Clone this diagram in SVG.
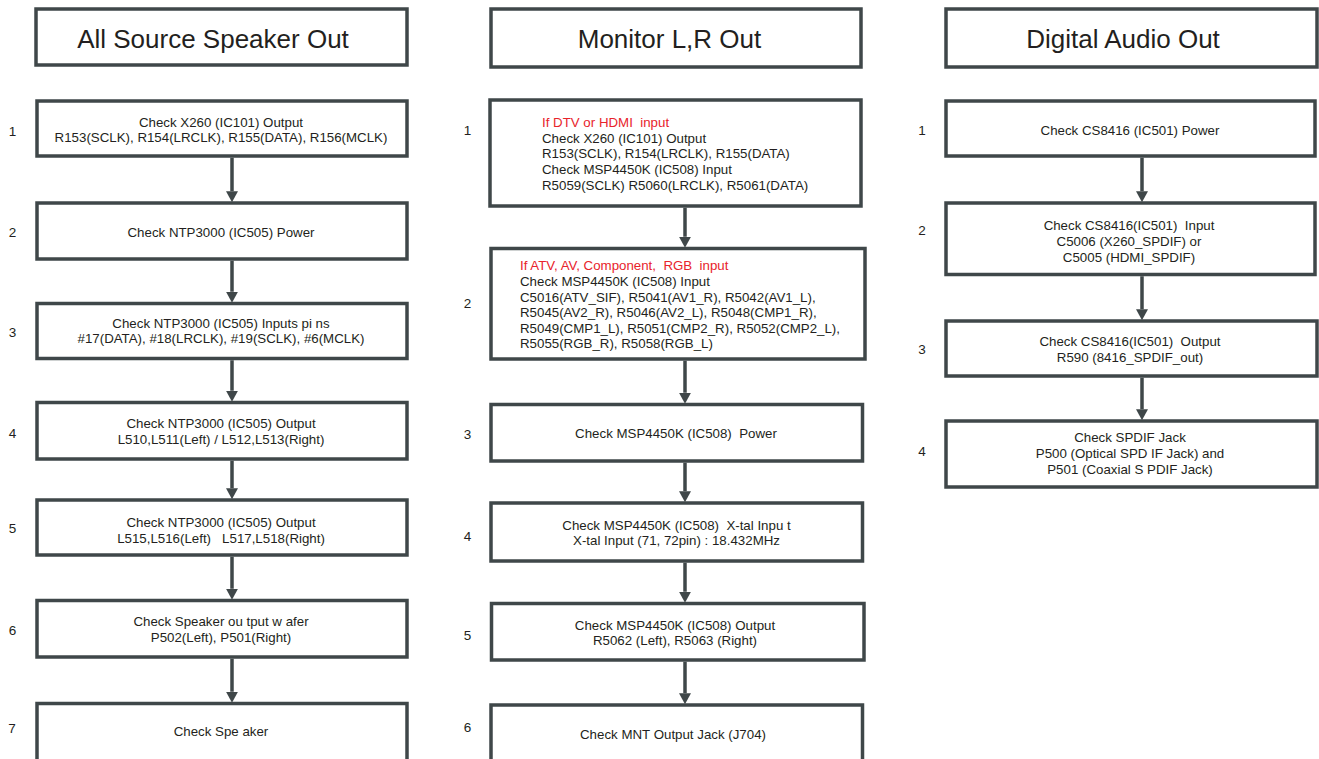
<svg xmlns="http://www.w3.org/2000/svg" width="1319" height="759" viewBox="0 0 1319 759">
<defs>
<style>
.box{fill:#fff;stroke:#3f4749;stroke-width:3.5}
.ttl{font-family:"Liberation Sans",Arial,sans-serif;font-size:26px;fill:#231f20;text-anchor:middle}
.t{font-family:"Liberation Sans",Arial,sans-serif;font-size:13.3px;fill:#231f20}
.c{text-anchor:middle}
.red{fill:#e8232b}
.num{font-family:"Liberation Sans",Arial,sans-serif;font-size:13.5px;fill:#231f20;text-anchor:middle}
.ln{stroke:#3f4749;stroke-width:3.5;fill:none}
</style>
<marker id="ah" markerUnits="userSpaceOnUse" markerWidth="11" markerHeight="12" viewBox="0 0 11 12" refX="0" refY="6" orient="auto">
<path d="M0,0 L11,6 L0,12 z" fill="#3f4749"/>
</marker>
</defs>
<rect width="1319" height="759" fill="#fff"/>

<!-- Column 1 -->
<g id="h1"><rect class="box" x="36" y="9" width="371" height="56"/><text class="ttl" x="213" y="48">All Source Speaker Out</text></g>
<g id="a1"><text class="num" x="12.5" y="135.5">1</text><rect class="box" x="37" y="101" width="370" height="55"/>
<text class="t c" x="221" y="126.7">Check X260 (IC101) Output</text><text class="t c" x="221" y="142">R153(SCLK), R154(LRCLK), R155(DATA), R156(MCLK)</text></g>
<g id="a2"><text class="num" x="12.5" y="236.7">2</text><rect class="box" x="37" y="203" width="370" height="56"/>
<text class="t c" x="221" y="237">Check NTP3000 (IC505) Power</text></g>
<g id="a3"><text class="num" x="12.5" y="336.7">3</text><rect class="box" x="37" y="303.5" width="370" height="55"/>
<text class="t c" x="221" y="327.7">Check NTP3000 (IC505) Inputs pi ns</text><text class="t c" x="221" y="343.3">#17(DATA), #18(LRCLK), #19(SCLK), #6(MCLK)</text></g>
<g id="a4"><text class="num" x="12.5" y="438.3">4</text><rect class="box" x="37" y="402.5" width="370" height="56.5"/>
<text class="t c" x="221" y="428.3">Check NTP3000 (IC505) Output</text><text class="t c" x="221" y="444">L510,L511(Left) / L512,L513(Right)</text></g>
<g id="a5"><text class="num" x="12.5" y="533.3">5</text><rect class="box" x="37" y="500" width="370" height="55"/>
<text class="t c" x="221" y="527.3">Check NTP3000 (IC505) Output</text><text class="t c" x="221" y="543.3" xml:space="preserve">L515,L516(Left)   L517,L518(Right)</text></g>
<g id="a6"><text class="num" x="12.5" y="635">6</text><rect class="box" x="37" y="600.5" width="370" height="56.5"/>
<text class="t c" x="221" y="626">Check Speaker ou tput w afer</text><text class="t c" x="221" y="641.7">P502(Left), P501(Right)</text></g>
<g id="a7"><text class="num" x="12" y="733.3">7</text><rect class="box" x="37" y="703.5" width="370" height="70"/>
<text class="t c" x="221" y="736">Check Spe aker</text></g>

<!-- Column 2 -->
<g id="h2"><rect class="box" x="491" y="9" width="370" height="58"/><text class="ttl" x="669.5" y="48">Monitor L,R Out</text></g>
<g id="b1"><text class="num" x="467.5" y="135">1</text><rect class="box" x="490" y="100" width="371" height="106"/>
<text class="t red" x="542" y="127.3" xml:space="preserve">If DTV or HDMI  input</text>
<text class="t" x="542" y="142.7">Check X260 (IC101) Output</text>
<text class="t" x="542" y="158.3">R153(SCLK), R154(LRCLK), R155(DATA)</text>
<text class="t" x="542" y="174">Check MSP4450K (IC508) Input</text>
<text class="t" x="542" y="190">R5059(SCLK) R5060(LRCLK), R5061(DATA)</text></g>
<g id="b2"><text class="num" x="467.5" y="308">2</text><rect class="box" x="491" y="248.5" width="374" height="110.5"/>
<text class="t red" x="520" y="270" xml:space="preserve">If ATV, AV, Component,  RGB  input</text>
<text class="t" x="520" y="286">Check MSP4450K (IC508) Input</text>
<text class="t" x="520" y="301.7">C5016(ATV_SIF), R5041(AV1_R), R5042(AV1_L),</text>
<text class="t" x="520" y="317.3">R5045(AV2_R), R5046(AV2_L), R5048(CMP1_R),</text>
<text class="t" x="520" y="332.7">R5049(CMP1_L), R5051(CMP2_R), R5052(CMP2_L),</text>
<text class="t" x="520" y="348.3">R5055(RGB_R), R5058(RGB_L)</text></g>
<g id="b3"><text class="num" x="467.5" y="439.3">3</text><rect class="box" x="491" y="404.5" width="371.5" height="56.5"/>
<text class="t c" x="676" y="438" xml:space="preserve">Check MSP4450K (IC508)  Power</text></g>
<g id="b4"><text class="num" x="467.5" y="540.7">4</text><rect class="box" x="491" y="503" width="371.5" height="58"/>
<text class="t c" x="676.5" y="530" xml:space="preserve">Check MSP4450K (IC508)  X-tal Inpu t</text><text class="t c" x="676.5" y="545.3">X-tal Input (71, 72pin) : 18.432MHz</text></g>
<g id="b5"><text class="num" x="467.5" y="640">5</text><rect class="box" x="491.5" y="603.5" width="372.5" height="56.5"/>
<text class="t c" x="675" y="630.3">Check MSP4450K (IC508) Output</text><text class="t c" x="675" y="645.3">R5062 (Left), R5063 (Right)</text></g>
<g id="b6"><text class="num" x="467.5" y="731.7">6</text><rect class="box" x="491" y="705" width="371.5" height="70"/>
<text class="t c" x="673" y="739">Check MNT Output Jack (J704)</text></g>

<!-- Column 3 -->
<g id="h3"><rect class="box" x="946" y="9" width="371" height="58"/><text class="ttl" x="1123" y="48">Digital Audio Out</text></g>
<g id="c1"><text class="num" x="922" y="135">1</text><rect class="box" x="946" y="101" width="369" height="55"/>
<text class="t c" x="1130" y="134.7">Check CS8416 (IC501) Power</text></g>
<g id="c2"><text class="num" x="922" y="235">2</text><rect class="box" x="946" y="203" width="369" height="71.5"/>
<text class="t c" x="1129" y="230" xml:space="preserve">Check CS8416(IC501)  Input</text><text class="t c" x="1129" y="246">C5006 (X260_SPDIF) or</text><text class="t c" x="1129" y="262">C5005 (HDMI_SPDIF)</text></g>
<g id="c3"><text class="num" x="922" y="354">3</text><rect class="box" x="946" y="321" width="371" height="55"/>
<text class="t c" x="1130" y="346" xml:space="preserve">Check CS8416(IC501)  Output</text><text class="t c" x="1130" y="362">R590 (8416_SPDIF_out)</text></g>
<g id="c4"><text class="num" x="922" y="456">4</text><rect class="box" x="946" y="421" width="371" height="66"/>
<text class="t c" x="1130" y="442">Check SPDIF Jack</text><text class="t c" x="1130" y="458">P500 (Optical SPD IF Jack) and</text><text class="t c" x="1130" y="474.3">P501 (Coaxial S PDIF Jack)</text></g>

<g id="connectors">
<line class="ln" x1="232" y1="157.75" x2="232" y2="191.25" marker-end="url(#ah)"/>
<line class="ln" x1="232" y1="260.75" x2="232" y2="291.75" marker-end="url(#ah)"/>
<line class="ln" x1="232" y1="360.25" x2="232" y2="390.75" marker-end="url(#ah)"/>
<line class="ln" x1="232" y1="460.75" x2="232" y2="488.25" marker-end="url(#ah)"/>
<line class="ln" x1="232" y1="556.75" x2="232" y2="588.75" marker-end="url(#ah)"/>
<line class="ln" x1="232" y1="658.75" x2="232" y2="691.75" marker-end="url(#ah)"/>
<line class="ln" x1="685" y1="207.75" x2="685" y2="236.75" marker-end="url(#ah)"/>
<line class="ln" x1="685" y1="360.75" x2="685" y2="392.75" marker-end="url(#ah)"/>
<line class="ln" x1="685" y1="462.75" x2="685" y2="491.25" marker-end="url(#ah)"/>
<line class="ln" x1="685" y1="562.75" x2="685" y2="591.75" marker-end="url(#ah)"/>
<line class="ln" x1="685" y1="661.75" x2="685" y2="693.25" marker-end="url(#ah)"/>
<line class="ln" x1="1142" y1="157.75" x2="1142" y2="191.25" marker-end="url(#ah)"/>
<line class="ln" x1="1142" y1="276.25" x2="1142" y2="309.25" marker-end="url(#ah)"/>
<line class="ln" x1="1142" y1="377.75" x2="1142" y2="409.25" marker-end="url(#ah)"/>
</g>
</svg>
